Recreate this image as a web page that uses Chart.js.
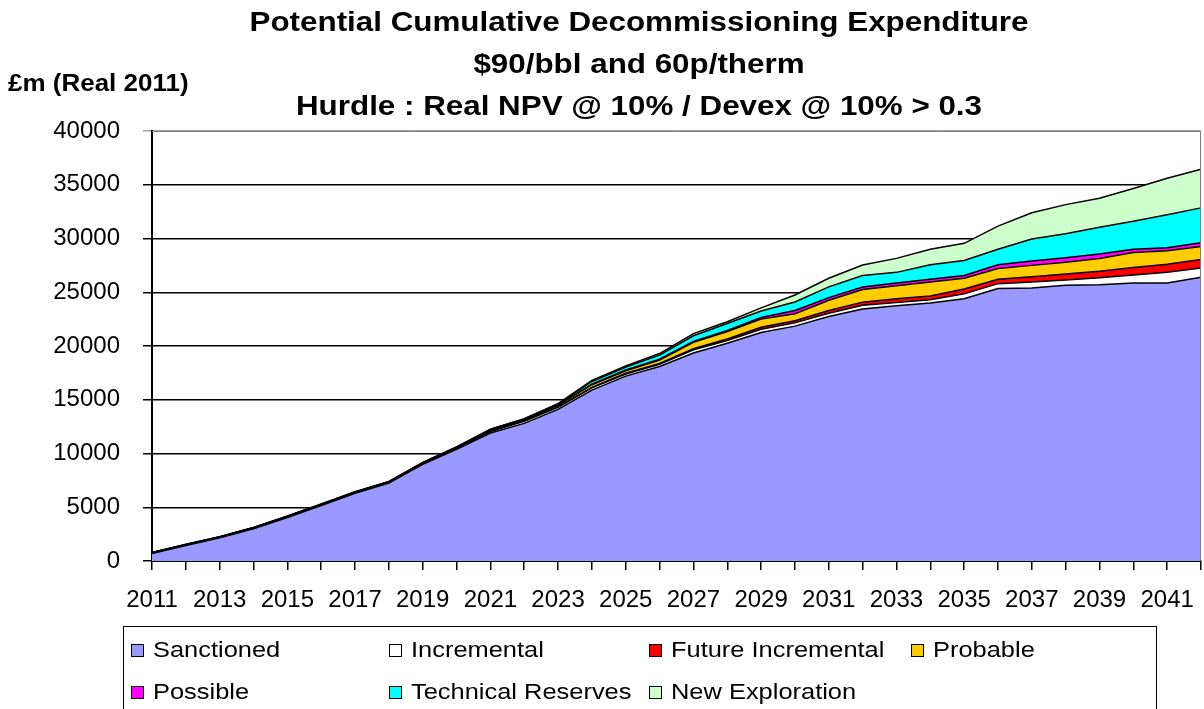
<!DOCTYPE html>
<html>
<head>
<meta charset="utf-8">
<script src="https://cdn.jsdelivr.net/npm/chart.js@4/dist/chart.umd.min.js"></script>
<style>
  body { margin: 0; background: #fff; font-family: "Liberation Sans", Arial, sans-serif; }
  #wrap { position: relative; width: 1204px; height: 709px; overflow: hidden; }
  #chart { position: absolute; left: 0; top: 0; }
  #title { position: absolute; left: 0; top: 1px; width: 1278px; text-align: center;
           font-weight: bold; font-size: 28px; line-height: 42px;
           transform: scaleX(1.12); transform-origin: 639px 0; }
  #unit { position: absolute; left: 8px; top: 72px; font-weight: bold; font-size: 23px;
          line-height: 23px; transform: scaleX(1.13); transform-origin: 0 0; white-space: nowrap; }
  #legend { position: absolute; left: 123px; top: 626px; width: 1034px; height: 120px;
            border: 1.5px solid #000; box-sizing: border-box; }
  .item { position: absolute; height: 26px; }
  .sq { position: absolute; top: 7px; width: 11px; height: 11px; border: 1px solid #000; }
  .lbl { position: absolute; left: 22px; top: 0; font-size: 22.5px; line-height: 26px;
         white-space: nowrap; transform: scaleX(1.13); transform-origin: 0 0; }
</style>
</head>
<body>
<div id="wrap">
  <canvas id="chart" width="1204" height="709"></canvas>
  <div id="title">Potential Cumulative Decommissioning Expenditure<br>$90/bbl and 60p/therm<br>Hurdle : Real NPV @ 10% / Devex @ 10% &gt; 0.3</div>
  <div id="unit">£m (Real 2011)</div>
  <div id="legend"></div>
</div>
<script>
/* ===================== DATA ===================== */
const years = [];
for (let y = 2011; y <= 2042; y++) years.push(String(y));

const seriesNames = ["Sanctioned", "Incremental", "Future Incremental", "Probable",
                     "Possible", "Technical Reserves", "New Exploration"];
const seriesColors = ["#9999FF", "#FFFFFF", "#FF0000", "#FFCC00", "#FF00FF", "#00FFFF", "#CCFFCC"];

const sanctioned = [700,1450,2150,3000,4050,5150,6300,7250,9000,10400,11900,12800,14100,15900,17200,18100,
                    19350,20250,21250,21850,22750,23450,23750,24000,24400,25350,25400,25650,25700,25850,25850,26400];
const incremental = [40,40,40,50,50,50,50,50,60,100,150,200,200,200,200,200,
                     300,250,300,300,300,330,300,300,450,450,550,500,650,750,1000,850];
const futureIncremental = [10,10,10,10,10,10,10,10,10,10,20,30,40,50,60,70,
                           100,150,200,200,250,300,350,350,450,400,500,550,600,700,750,800];
const probable = [20,20,20,20,20,30,30,30,30,40,80,90,130,250,240,330,
                  600,700,750,650,950,1170,1200,1300,1000,1000,1050,1100,1200,1400,1250,1200];
const possible = [5,5,5,5,10,10,10,10,10,10,20,20,30,50,70,80,
                  70,100,150,300,250,230,250,250,250,350,400,400,400,300,300,350];
const technicalReserves = [15,15,25,25,30,30,30,30,30,40,60,70,100,250,280,370,
                           530,650,600,800,1000,1080,1000,1350,1400,1450,2050,2250,2500,2600,3050,3250];
const newExploration = [10,10,10,20,20,20,20,20,20,20,30,30,40,100,100,150,
                        200,150,300,650,800,970,1300,1450,1600,2150,2450,2700,2700,3050,3400,3600];

const seriesValues = [sanctioned, incremental, futureIncremental, probable,
                      possible, technicalReserves, newExploration];

/* ===================== LEGEND (HTML) ===================== */
const legendCols = [130, 388, 648, 910];
const legendRows = [10, 52];
const legendEl = document.getElementById("legend");
seriesNames.forEach((name, i) => {
  const d = document.createElement("div");
  d.className = "item";
  d.style.left = (legendCols[i < 4 ? i : i - 4] - 123) + "px";
  d.style.top = legendRows[i < 4 ? 0 : 1] + "px";
  d.innerHTML = `<span class="sq" style="background:${seriesColors[i]}"></span><span class="lbl">${name}</span>`;
  legendEl.appendChild(d);
});

/* ===================== CHART ===================== */
const FONT = "'Liberation Sans', Arial, sans-serif";

const frame = {
  id: "frame",
  afterDraw(c) {
    const a = c.chartArea, ctx = c.ctx;
    ctx.save();
    ctx.strokeStyle = "#808080";
    ctx.lineWidth = 1;
    ctx.beginPath();
    ctx.moveTo(a.left, a.top + 0.5);
    ctx.lineTo(a.right - 0.5, a.top + 0.5);
    ctx.lineTo(a.right - 0.5, a.bottom);
    ctx.stroke();
    ctx.restore();
  }
};

new Chart(document.getElementById("chart"), {
  type: "line",
  data: {
    labels: years,
    datasets: seriesValues.map((vals, i) => ({
      label: seriesNames[i],
      data: vals,
      backgroundColor: seriesColors[i],
      borderColor: "#000",
      borderWidth: 1.5,
      pointRadius: 0,
      tension: 0,
      fill: i === 0 ? "origin" : "-1"
    }))
  },
  options: {
    responsive: false,
    animation: false,
    layout: { padding: { left: 0, top: 131, right: 3, bottom: 0 } },
    plugins: { legend: { display: false }, tooltip: { enabled: false }, title: { display: false } },
    scales: {
      x: {
        type: "category",
        offset: false,
        grid: { drawOnChartArea: false, drawTicks: true, tickLength: 9, color: "#000", lineWidth: 1.5 },
        border: { color: "#000", width: 2 },
        ticks: {
          autoSkip: false, maxRotation: 0, minRotation: 0, padding: 16,
          color: "#000", font: { family: FONT, size: 24 },
          callback: (v, i) => i % 2 === 0 ? years[i] : ""
        },
        afterFit: s => { s.height = 148; s.paddingLeft = 0; s.paddingRight = 0; }
      },
      y: {
        stacked: true,
        min: 0, max: 40000,
        grid: {
          tickLength: 9, lineWidth: 1.5,
          color: ctx => ctx.tick && ctx.tick.value === 40000 ? "#a0a0a0" : "#000"
        },
        border: { color: "#000", width: 2 },
        ticks: {
          stepSize: 5000, padding: 23, color: "#000", font: { family: FONT, size: 24 },
          callback: v => String(v)
        },
        afterFit: s => { s.width = 152; }
      }
    }
  },
  plugins: [frame]
});
</script>
</body>
</html>
